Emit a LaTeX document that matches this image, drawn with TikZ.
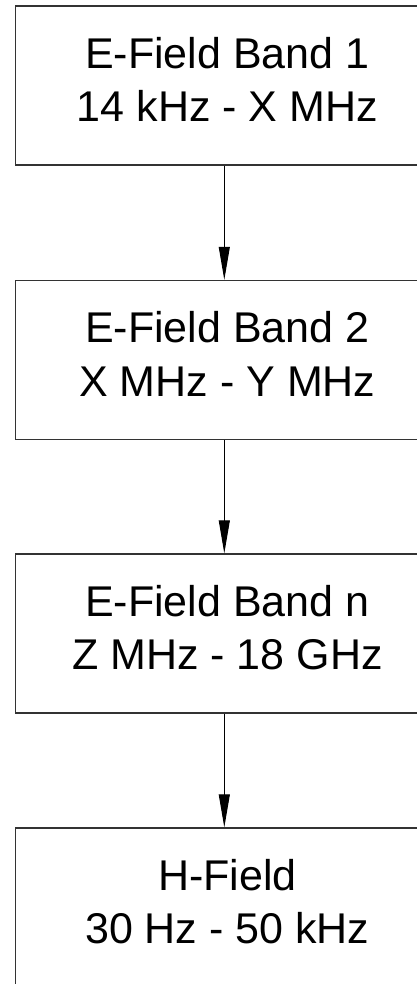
\documentclass[tikz,border=0pt]{standalone}
\usepackage{fontspec}
\setmainfont{Liberation Sans}
\usetikzlibrary{arrows.meta}
\begin{document}
\begin{tikzpicture}[x=1pt,y=1pt,
  bandbox/.style={draw=black!80,line width=1.3pt,minimum width=418pt,minimum height=159pt,inner sep=0pt},
  bandtext/.style={font=\fontsize{43}{53.4}\selectfont,align=center,inner sep=0pt,text=black},
  flow/.style={draw=black,line width=1pt,-{Triangle[length=33pt,width=11pt]}}]
\useasboundingbox (0,0) rectangle (417,-984);
\clip (0,0) rectangle (417,-984);
\fill[white] (0,0) rectangle (417,-984);
\node[bandbox] (b1) at (224.3,-85.5) {};
\node[bandbox] (b2) at (224.3,-360) {};
\node[bandbox] (b3) at (224.3,-633.5) {};
\node[bandbox] (b4) at (224.3,-907.5) {};
\node[bandtext] (t1) at ([xshift=3pt,yshift=6pt]b1.center) {E-Field Band 1\\14 kHz - X MHz};
\node[bandtext] (t2) at ([xshift=3pt,yshift=6pt]b2.center) {E-Field Band 2\\X MHz - Y MHz};
\node[bandtext] (t3) at ([xshift=3pt,yshift=6pt]b3.center) {E-Field Band n\\Z MHz - 18 GHz};
\node[bandtext] (t4) at ([xshift=3pt,yshift=6pt]b4.center) {H-Field\\30 Hz - 50 kHz};
\draw[flow] (b1.south) -- (b2.north);
\draw[flow] (b2.south) -- (b3.north);
\draw[flow] (b3.south) -- (b4.north);
\end{tikzpicture}
\end{document}
